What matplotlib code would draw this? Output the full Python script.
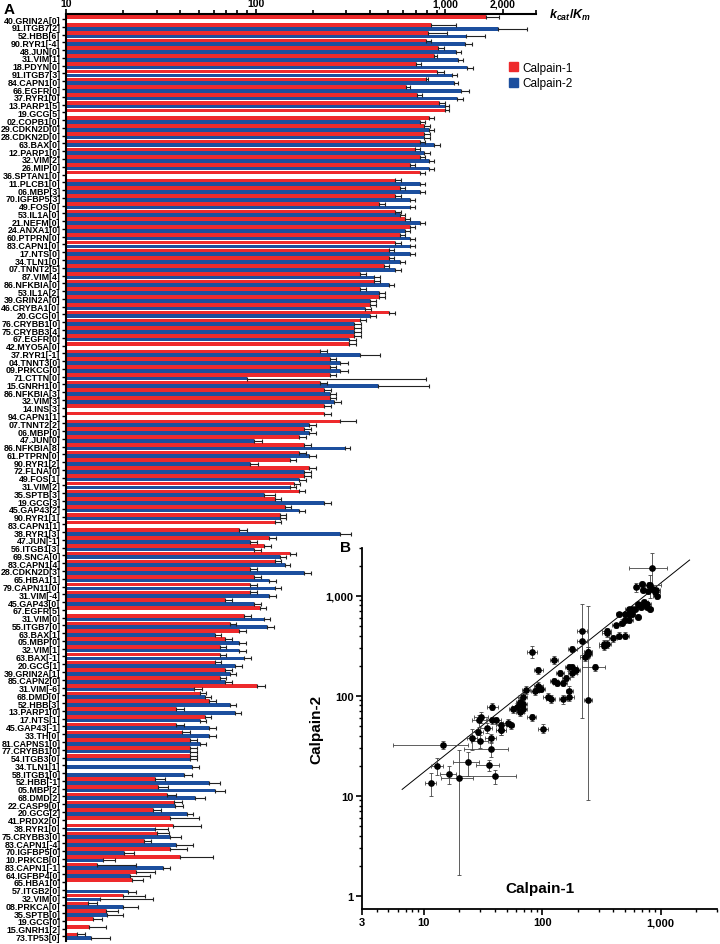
import numpy as np
import matplotlib.pyplot as plt
from matplotlib.patches import Patch
from matplotlib.ticker import FixedLocator, NullFormatter

plt.rcParams['font.family'] = ['Liberation Sans', 'DejaVu Sans']
plt.rcParams['mathtext.fontset'] = 'custom'
plt.rcParams['mathtext.rm'] = 'Liberation Sans'
plt.rcParams['mathtext.it'] = 'Liberation Sans:italic'
plt.rcParams['mathtext.bf'] = 'Liberation Sans:bold'
plt.rcParams['mathtext.bfit'] = 'Liberation Sans:italic:bold'

nan = np.nan

labels = [
    "40.GRIN2A[0]", "91.ITGB7[2]", "52.HBB[6]", "90.RYR1[-4]", "48.JUN[0]", "31.VIM[1]",
    "18.PDYN[0]", "91.ITGB7[3]", "84.CAPN1[0]", "66.EGFR[0]", "37.RYR1[0]", "13.PARP1[5]",
    "19.GCG[5]", "02.COPB1[0]", "29.CDKN2D[0]", "28.CDKN2D[0]", "63.BAX[0]", "12.PARP1[0]",
    "32.VIM[2]", "26.MIP[0]", "36.SPTAN1[0]", "11.PLCB1[0]", "06.MBP[3]", "70.IGFBP5[3]",
    "49.FOS[0]", "53.IL1A[0]", "21.NEFM[0]", "24.ANXA1[0]", "60.PTPRN[0]", "83.CAPN1[0]",
    "17.NTS[0]", "34.TLN1[0]", "07.TNNT2[5]", "87.VIM[4]", "86.NFKBIA[0]", "53.IL1A[2]",
    "39.GRIN2A[0]", "46.CRYBA1[0]", "20.GCG[0]", "76.CRYBB1[0]", "75.CRYBB3[4]", "67.EGFR[0]",
    "42.MYO5A[0]", "37.RYR1[-1]", "04.TNNT3[0]", "09.PRKCG[0]", "71.CTTN[0]", "15.GNRH1[0]",
    "86.NFKBIA[3]", "32.VIM[3]", "14.INS[3]", "94.CAPN1[1]", "07.TNNT2[2]", "06.MBP[0]",
    "47.JUN[0]", "86.NFKBIA[8]", "61.PTPRN[0]", "90.RYR1[2]", "72.FLNA[0]", "49.FOS[1]",
    "31.VIM[2]", "35.SPTB[3]", "19.GCG[3]", "45.GAP43[2]", "90.RYR1[1]", "83.CAPN1[1]",
    "38.RYR1[3]", "47.JUN[-1]", "56.ITGB1[3]", "69.SNCA[0]", "83.CAPN1[4]", "28.CDKN2D[3]",
    "65.HBA1[1]", "79.CAPN11[0]", "31.VIM[-4]", "45.GAP43[0]", "67.EGFR[5]", "31.VIM[0]",
    "55.ITGB7[0]", "63.BAX[1]", "05.MBP[0]", "32.VIM[1]", "63.BAX[-1]", "20.GCG[1]",
    "39.GRIN2A[1]", "85.CAPN2[0]", "31.VIM[-6]", "68.DMD[0]", "52.HBB[3]", "13.PARP1[0]",
    "17.NTS[1]", "45.GAP43[-1]", "33.TH[0]", "81.CAPNS1[0]", "77.CRYBB1[0]", "54.ITGB3[0]",
    "34.TLN1[1]", "58.ITGB1[0]", "52.HBB[-1]", "05.MBP[2]", "68.DMD[2]", "22.CASP9[0]",
    "20.GCG[2]", "41.PRDX2[0]", "38.RYR1[0]", "75.CRYBB3[0]", "83.CAPN1[-4]", "70.IGFBP5[0]",
    "10.PRKCB[0]", "83.CAPN1[-1]", "64.IGFBP4[0]", "65.HBA1[0]", "57.ITGB2[0]", "32.VIM[0]",
    "08.PRKCA[0]", "35.SPTB[0]", "19.GCG[0]", "15.GNRH1[2]", "73.TP53[0]",
]

calpain1 = [
    1644, 843, 813, 793, 908, 865, 703, 897, 785, 623, 712, 930,
    990, 820, 775, 775, 730, 690, 730, 650, 730, 540, 573, 540,
    449, 540, 610, 650, 573, 540, 505, 505, 475, 353, 420, 353,
    449, 400, 505, 353, 330, 330, 312, 217, 245, 245, 245, 217,
    230, 245, 230, 230, 277, 180, 170, 180, 170, 151, 192, 180,
    160, 170, 126, 142, 134, 126, 82, 118, 111, 151, 126, 93,
    98, 93, 93, 69, 105, 87, 73, 82, 69, 65, 65, 61,
    69, 65, 102, 51, 57, 38, 54, 38, 41, 45, 45, 45,
    nan, nan, 29.4, 30.5, 34, 37, 28.6, 35.2, 36.7, 30, 25.7, 35.5,
    39.8, 14.5, 23.5, 22.4, nan, 20.0, 13.0, 16.3, 13.9, 13.3, 11.4,
]
calpain1_sd = [
    280, 300, 200, 50, 80, 40, 42, 83, 22, 29, 41, 60,
    60, 50, 50, 50, 50, 40, 50, 40, 50, 40, 40, 40,
    30, 40, 40, 40, 40, 40, 30, 30, 30, 30, 30, 30,
    30, 30, 40, 30, 30, 30, 25, 20, 20, 20, 20, 20,
    20, 20, 20, 20, 60, 15, 15, 15, 15, 12, 15, 15,
    12, 12, 10, 12, 10, 10, 8, 10, 10, 12, 10, 8,
    8, 8, 8, 6, 8, 7, 6, 7, 6, 5, 5, 5,
    6, 5, 10, 4, 5, 4, 4, 4, 4, 4, 4, 4,
    nan, nan, 4, 4, 4, 4, 3, 15, 15, 5, 2.5, 8,
    20, 9, 6, 3, nan, 6, 1.5, 2.5, 1.5, 3, 1.2,
]
calpain2 = [
    nan, 1900, 1290, 1275, 1143, 1170, 1306, 1089, 1103, 1213, 1150, 990,
    nan, 730, 820, 775, 875, 775, 820, 820, nan, 730, 730, 650,
    650, 573, 730, 610, 650, 650, 650, 573, 540, 420, 505, 449,
    400, 375, 400, 330, 330, 312, nan, 353, 277, 277, 90, 440,
    245, 260, nan, nan, 192, 192, 98, 295, 192, 93, 180, 170,
    151, 111, 230, 170, 134, nan, 277, 93, 98, 134, 142, 180,
    118, 126, 118, 98, nan, 111, 115, 61, 82, 82, 87, 78,
    73, 69, 47, 54, 73, 78, 51, 57, 57, 51, 45, 45,
    46, 42, 57, 61, 48, 37.5, 43.6, nan, 29.4, 35.2, 37.8, 20.2,
    15.7, 32.5, 21.7, nan, 21.3, 15.1, 20.0, 16.5, nan, nan, 13.5,
]
calpain2_sd = [
    nan, 800, 330, 110, 60, 64, 87, 64, 58, 114, 80, 60,
    nan, 50, 50, 50, 60, 50, 50, 50, nan, 50, 50, 40,
    40, 40, 50, 40, 40, 40, 40, 40, 40, 30, 30, 30,
    30, 30, 30, 30, 30, 25, nan, 100, 30, 30, 700, 380,
    20, 20, nan, nan, 15, 15, 10, 20, 15, 10, 15, 15,
    12, 15, 20, 12, 10, nan, 40, 8, 8, 10, 10, 15,
    10, 10, 10, 8, nan, 8, 10, 5, 7, 7, 7, 7,
    6, 6, 5, 4, 6, 6, 4, 5, 5, 4, 4, 4,
    4, 4, 8, 8, 6, 4, 3, nan, 5, 5, 9, 2.5,
    2.5, 3, 6, nan, 2, 13.5, 4, 3.5, nan, nan, 3.5,
]

# line through panel B
fit_x = [6.55, 1760]
fit_y = [11.6, 2275]

red = '#ee2a2c'
blue = '#1c4f9e'
W, H = 720, 945

c1 = np.array(calpain1, float)
c2 = np.array(calpain2, float)
s1 = np.array(calpain1_sd, float)
s2 = np.array(calpain2_sd, float)
n = len(labels)
rows = np.arange(n)

fig = plt.figure(figsize=(W / 100, H / 100), dpi=100)

# ---- panel A
ax = fig.add_axes([66 / W, 1 - 942.4 / H, (536 - 66) / W, (942.4 - 15) / H])
ax.set_xscale('log')
ax.barh(rows - 0.24, c1 - 1, left=1, height=0.47, color=red, zorder=2)
ax.barh(rows + 0.24, c2 - 1, left=1, height=0.47, color=blue, zorder=2)
ebkw = dict(fmt='none', ecolor='#222222', elinewidth=0.8, capsize=1.6, capthick=0.8, zorder=3)
ax.errorbar(c1, rows - 0.24, xerr=[np.zeros(n), s1], **ebkw)
ax.errorbar(c2, rows + 0.24, xerr=[np.zeros(n), s2], **ebkw)

ax.set_xlim(10, 3000)
ax.set_ylim(n - 1 + 0.65, -0.65)
ax.xaxis.tick_top()
ax.xaxis.set_major_locator(FixedLocator([10, 100, 1000, 2000]))
ax.set_xticklabels(['10', '100', '1,000', '2,000'], fontweight='bold', fontsize=7.5)
minors = [v * d for d in (10, 100) for v in range(2, 10)] + [3000]
ax.xaxis.set_minor_locator(FixedLocator(minors))
ax.xaxis.set_minor_formatter(NullFormatter())
ax.tick_params(axis='x', which='major', length=3.5, width=1.2, pad=0.5)
ax.tick_params(axis='x', which='minor', length=3, width=1.2)
ax.set_yticks(rows)
ax.set_yticklabels(labels, fontweight='bold', fontsize=6.4)
ax.tick_params(axis='y', length=3, width=1, pad=1)
for s in ('right', 'bottom'):
    ax.spines[s].set_visible(False)
for s in ('left', 'top'):
    ax.spines[s].set_linewidth(1.5)

fig.text(549 / W, 1 - 15 / H,
         r'$\mathbfit{k}_{\mathbfit{cat}}\mathbf{/}\mathbfit{K}_{\mathbfit{m}}$',
         fontsize=9, va='center', ha='left')
fig.text(4 / W, 1 - 10 / H, 'A', fontsize=11, fontweight='bold', va='center')

ax.legend(handles=[Patch(color=red, label='Calpain-1'), Patch(color=blue, label='Calpain-2')],
          loc='upper left', bbox_to_anchor=(498 / W, 1 - 52 / H), bbox_transform=fig.transFigure,
          frameon=False, fontsize=8.5, handlelength=0.8, handleheight=0.8,
          handletextpad=0.4, labelspacing=0.3)

# ---- panel B
bx = fig.add_axes([362 / W, 1 - 910 / H, (717 - 362) / W, (910 - 549) / H])
bx.patch.set_visible(False)
bx.set_xscale('log')
bx.set_yscale('log')
both = ~np.isnan(c1) & ~np.isnan(c2)
x, yv = c1[both], c2[both]
xe, ye = s1[both], s2[both]
xlo = np.minimum(xe, x * 0.9)
ylo = np.minimum(ye, yv * 0.9)
bx.errorbar(x, yv, xerr=[xlo, xe], yerr=[ylo, ye], fmt='o', ms=3.8, color='black',
            ecolor='#444444', elinewidth=0.6, capsize=1.3, capthick=0.6, zorder=3)
bx.plot(fit_x, fit_y, color='black', lw=0.7, zorder=2)
bx.set_xlim(3, 3000)
bx.set_ylim(0.74, 3000)
bx.xaxis.set_major_locator(FixedLocator([3, 10, 100, 1000]))
bx.set_xticklabels(['3', '10', '100', '1,000'], fontweight='bold', fontsize=8)
bx.xaxis.set_minor_locator(FixedLocator([v * d for d in (1, 10, 100, 1000) for v in range(2, 10)
                                          if 3 < v * d <= 3000]))
bx.xaxis.set_minor_formatter(NullFormatter())
bx.yaxis.set_major_locator(FixedLocator([1, 10, 100, 1000]))
bx.set_yticklabels(['1', '10', '100', '1,000'], fontweight='bold', fontsize=8)
bx.yaxis.set_minor_locator(FixedLocator([v * d for d in (1, 10, 100, 1000) for v in range(2, 10)
                                          if v * d <= 3000]))
bx.yaxis.set_minor_formatter(NullFormatter())
bx.tick_params(which='major', length=4, width=1.2, pad=2)
bx.tick_params(which='minor', length=2.5, width=1)
for s in ('right', 'top'):
    bx.spines[s].set_visible(False)
for s in ('left', 'bottom'):
    bx.spines[s].set_linewidth(1.3)
bx.text(0.5, 0.04, 'Calpain-1', transform=bx.transAxes, ha='center', va='bottom',
        fontsize=11, fontweight='bold')
bx.set_ylabel('Calpain-2', fontsize=11, fontweight='bold', labelpad=2)
fig.text(340 / W, 1 - 548 / H, 'B', fontsize=11, fontweight='bold', va='center')

fig.savefig('out.png', dpi=100)
